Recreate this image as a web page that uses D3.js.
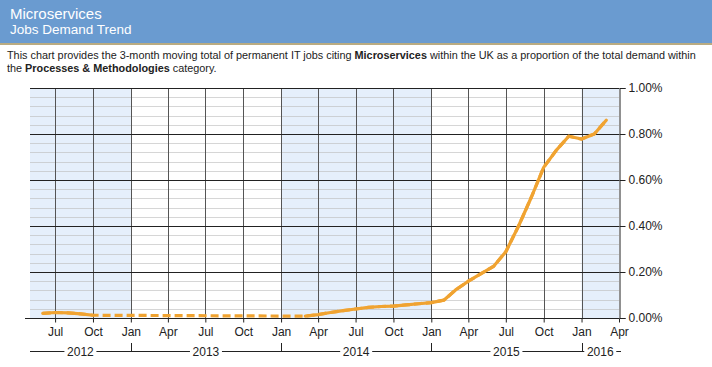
<!DOCTYPE html>
<html>
<head>
<meta charset="utf-8">
<script src="https://cdn.jsdelivr.net/npm/d3@7"></script>
<style>
  body { margin: 0; background: #fff; }
  svg { display: block; font-family: Arial, "Liberation Sans", sans-serif; }
  .desc { font-size: 10.85px; fill: #222; }
  .axis text { font-size: 12px; fill: #222; }
</style>
</head>
<body>
<script>
// 월별 데이터 (null = 데이터 없음, 점선으로 연결)
const months = [
  "2012-06", "2012-07", "2012-08", "2012-09", "2012-10", "2012-11", "2012-12",
  "2013-01", "2013-02", "2013-03", "2013-04", "2013-05", "2013-06", "2013-07",
  "2013-08", "2013-09", "2013-10", "2013-11", "2013-12",
  "2014-01", "2014-02", "2014-03", "2014-04", "2014-05", "2014-06", "2014-07",
  "2014-08", "2014-09", "2014-10", "2014-11", "2014-12",
  "2015-01", "2015-02", "2015-03", "2015-04", "2015-05", "2015-06", "2015-07",
  "2015-08", "2015-09", "2015-10", "2015-11", "2015-12",
  "2016-01", "2016-02", "2016-03"
];
const values = [
  0.020, 0.024, 0.022, 0.018, 0.012, null, null,
  null, null, null, null, null, null, null,
  null, null, null, null, null,
  null, null, 0.008, 0.015, 0.024, 0.032, 0.039,
  0.046, 0.050, 0.052, 0.057, 0.062,
  0.067, 0.078, 0.122, 0.160, 0.192, 0.224, 0.288,
  0.400, 0.525, 0.655, 0.730, 0.790,
  0.778, 0.800, 0.860
];
const yTicks = [0, 0.2, 0.4, 0.6, 0.8, 1.0];
const years = [2012, 2013, 2014, 2015, 2016];
const shadedYears = [2012, 2014, 2016];

const width = 712, height = 367;
const plot = {left: 30, right: 619, top: 88, bottom: 318};

const svg = d3.select("body").append("svg")
    .attr("width", width)
    .attr("height", height);

// 헤더
svg.append("rect")
    .attr("x", 0).attr("y", 0)
    .attr("width", width).attr("height", 44)
    .attr("fill", "#6a9bd0");
svg.append("rect")
    .attr("x", 0).attr("y", 43)
    .attr("width", width).attr("height", 2)
    .attr("fill", "#b9ab82");
svg.append("text")
    .attr("x", 10).attr("y", 19)
    .attr("fill", "#fff")
    .style("font-size", "15px")
    .text("Microservices");
svg.append("text")
    .attr("x", 10).attr("y", 34)
    .attr("fill", "#fff")
    .style("font-size", "13.5px")
    .text("Jobs Demand Trend");

// 설명
const desc1 = svg.append("text").attr("class", "desc").attr("x", 7).attr("y", 59);
desc1.append("tspan").text("This chart provides the 3-month moving total of permanent IT jobs citing ");
desc1.append("tspan").style("font-weight", "bold").text("Microservices");
desc1.append("tspan").text(" within the UK as a proportion of the total demand within");
const desc2 = svg.append("text").attr("class", "desc").attr("x", 7).attr("y", 72);
desc2.append("tspan").text("the ");
desc2.append("tspan").style("font-weight", "bold").text("Processes & Methodologies");
desc2.append("tspan").text(" category.");

// 스케일
const x = d3.scaleUtc()
    .domain([new Date(Date.UTC(2012, 4, 1)), new Date(Date.UTC(2016, 3, 1))])
    .range([plot.left, plot.right]);
const y = d3.scaleLinear().domain([0, 1]).range([plot.bottom, plot.top]);

const clampX = d => Math.max(plot.left, Math.min(plot.right, x(d)));

// 연도 음영
svg.append("g").selectAll("rect")
    .data(shadedYears)
    .join("rect")
    .attr("x", d => clampX(new Date(Date.UTC(d, 0, 1))))
    .attr("width", d => clampX(new Date(Date.UTC(d + 1, 0, 1))) - clampX(new Date(Date.UTC(d, 0, 1))))
    .attr("y", plot.top)
    .attr("height", plot.bottom - plot.top)
    .attr("fill", "#e5effb");

// 보조 격자
const minor = d3.range(0.04, 1, 0.04).filter(v => Math.abs(v * 5 - Math.round(v * 5)) > 1e-6);
svg.append("g").selectAll("line")
    .data(minor)
    .join("line")
    .attr("x1", plot.left).attr("x2", plot.right)
    .attr("y1", d => Math.round(y(d)) + 0.5).attr("y2", d => Math.round(y(d)) + 0.5)
    .attr("stroke", "#bbb")
    .attr("stroke-opacity", 0.6);

// 세로 격자 (분기)
const quarters = x.ticks(d3.utcMonth.every(3)).filter(d => x(d) > plot.left && x(d) < plot.right);
svg.append("g").selectAll("line")
    .data(quarters)
    .join("line")
    .attr("x1", d => Math.round(x(d)) + 0.5).attr("x2", d => Math.round(x(d)) + 0.5)
    .attr("y1", plot.top).attr("y2", plot.bottom)
    .attr("stroke", "#555");

// 주 격자
svg.append("g").selectAll("line")
    .data(yTicks)
    .join("line")
    .attr("x1", plot.left).attr("x2", plot.right)
    .attr("y1", d => Math.round(y(d)) + 0.5).attr("y2", d => Math.round(y(d)) + 0.5)
    .attr("stroke", "#222");

// 오른쪽 축
const yAxis = svg.append("g")
    .attr("class", "axis")
    .attr("transform", `translate(${plot.right + 0.5},0)`)
    .call(d3.axisRight(y).tickValues(yTicks).tickSize(6).tickPadding(3)
        .tickFormat(d => d.toFixed(2) + "%"));
yAxis.selectAll("line, path").attr("stroke", "#222");

// 아래 축 (월)
const xAxis = svg.append("g")
    .attr("class", "axis")
    .attr("transform", `translate(0,${plot.bottom + 0.5})`)
    .call(d3.axisBottom(x).ticks(d3.utcMonth.every(3)).tickSize(4).tickPadding(5)
        .tickFormat(d3.utcFormat("%b")));
xAxis.select(".domain").attr("d", `M${plot.left - 5},0H${plot.right}`).attr("stroke", "#222");
xAxis.selectAll(".tick line").attr("stroke", "#222");

// 연도 줄
const yearY = 351;
const yearG = svg.append("g").attr("class", "axis");
yearG.append("line")
    .attr("x1", plot.left).attr("x2", plot.right + 2)
    .attr("y1", yearY + 0.5).attr("y2", yearY + 0.5)
    .attr("stroke", "#222");
yearG.selectAll("line.sep")
    .data(years.slice(1))
    .join("line")
    .attr("class", "sep")
    .attr("x1", d => Math.round(x(new Date(Date.UTC(d, 0, 1)))) + 0.5)
    .attr("x2", d => Math.round(x(new Date(Date.UTC(d, 0, 1)))) + 0.5)
    .attr("y1", yearY - 8).attr("y2", yearY)
    .attr("stroke", "#222");
const yearMid = d => (clampX(new Date(Date.UTC(d, 0, 1))) + clampX(new Date(Date.UTC(d + 1, 0, 1)))) / 2;
yearG.selectAll("rect")
    .data(years)
    .join("rect")
    .attr("x", d => yearMid(d) - 16)
    .attr("y", yearY - 4)
    .attr("width", 32).attr("height", 9)
    .attr("fill", "#fff");
yearG.selectAll("text")
    .data(years)
    .join("text")
    .attr("x", yearMid)
    .attr("y", yearY + 4.5)
    .attr("text-anchor", "middle")
    .text(d => d);

// 선
const pts = months.map((m, i) => {
    const [yy, mm] = m.split("-").map(Number);
    return {date: new Date(Date.UTC(yy, mm - 1, 1)), value: values[i]};
});
const line = d3.line()
    .defined(d => d.value !== null)
    .x(d => x(d.date))
    .y(d => y(d.value));

// 누락 구간 점선
const known = pts.filter(d => d.value !== null);
svg.append("path")
    .datum(known)
    .attr("d", d3.line().x(d => x(d.date)).y(d => y(d.value)))
    .attr("fill", "none")
    .attr("stroke", "#f0a331")
    .attr("stroke-width", 3.2)
    .attr("stroke-dasharray", "8,4");

svg.append("path")
    .datum(pts)
    .attr("d", line)
    .attr("fill", "none")
    .attr("stroke", "#f0a331")
    .attr("stroke-width", 3.2)
    .attr("stroke-linejoin", "round")
    .attr("stroke-linecap", "round");
</script>
</body>
</html>
